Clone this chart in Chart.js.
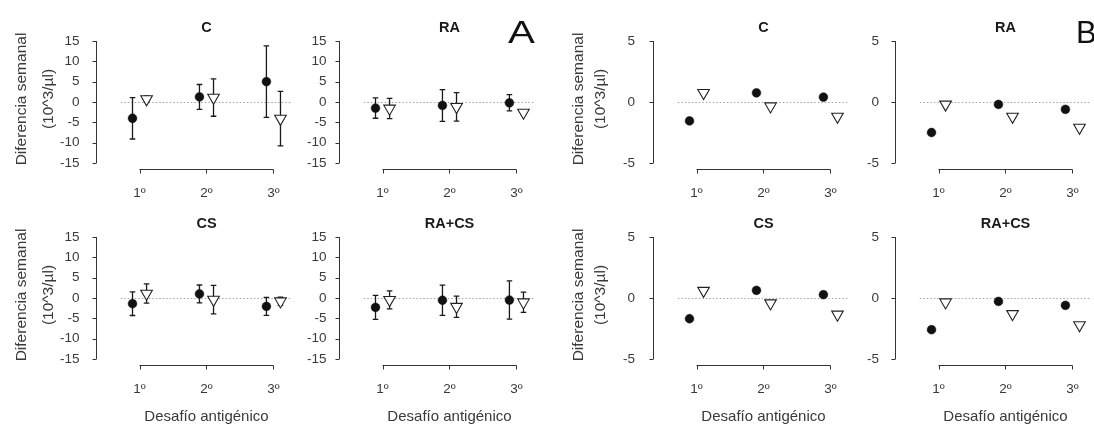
<!DOCTYPE html>
<html>
<head>
<meta charset="utf-8">
<script src="https://cdn.jsdelivr.net/npm/chart.js@4.4.1/dist/chart.umd.min.js"></script>
<style>
  html, body { margin: 0; padding: 0; background: #fff; width: 1094px; height: 430px; overflow: hidden; position: relative; }
  canvas { position: absolute; z-index: 1; }
  .tag { position: absolute; z-index: 2; font: 31px "Liberation Sans", Arial, sans-serif; color: #111; line-height: 31px;
         transform-origin: 0 0; }
</style>
</head>
<body>
<div class="tag" style="left:508px;top:17px;transform:scaleX(1.3)">A</div>
<div class="tag" style="left:1076px;top:17px">B</div>
<script>
// Categories and panel names
const challenges = ['1º', '2º', '3º'];
const groups = ['C', 'RA', 'CS', 'RA+CS'];
const ticksA = [-15, -10, -5, 0, 5, 10, 15];
const ticksB = [-5, 0, 5];

// A: weekly difference, mean and error (filled circles / open triangles)
const dotA_C = [-4.0, 1.25, 5.0];      const dotErrA_C = [5.1, 3.05, 8.8];
const triA_C = [0.7, 1.1, -4.1];       const triErrA_C = [0.8, 4.6, 6.7];
const dotA_RA = [-1.5, -0.85, -0.2];   const dotErrA_RA = [2.5, 3.9, 2.0];
const triA_RA = [-1.6, -1.2, -2.6];    const triErrA_RA = [2.5, 3.5, 0.5];
const dotA_CS = [-1.4, 1.0, -2.05];    const dotErrA_CS = [2.9, 2.2, 2.2];
const triA_CS = [1.1, -0.4, -0.8];     const triErrA_CS = [2.35, 3.5, 1.0];
const dotA_RACS = [-2.3, -0.55, -0.5]; const dotErrA_RACS = [2.95, 3.7, 4.7];
const triA_RACS = [-0.45, -2.15, -1.05]; const triErrA_RACS = [2.2, 2.6, 2.5];

// B: weekly difference, means only
const dotB_C = [-1.55, 0.75, 0.4];     const triB_C = [0.75, -0.35, -1.2];
const dotB_RA = [-2.5, -0.2, -0.6];    const triB_RA = [-0.2, -1.2, -2.1];
const dotB_CS = [-1.7, 0.63, 0.27];    const triB_CS = [0.6, -0.43, -1.35];
const dotB_RACS = [-2.6, -0.28, -0.6]; const triB_RACS = [-0.35, -1.31, -2.22];

// page layout: pixel of "1º" per column, pixel of zero per row
const colX = [140, 383, 697, 939];
const rowY = [102, 298];
const step = 68.6;
const tickRight = [-60, -56, -61.5, -59.5];
const yTitleX = [[-74.5, -47.5], null, [-74.5, -53], null];
const dodge = 0.105;
const FONT = '"Liberation Sans", Arial, sans-serif';

const panels = [
  { col: 0, row: 0, title: groups[0], ticks: ticksA, dot: dotA_C, dotErr: dotErrA_C, tri: triA_C, triErr: triErrA_C },
  { col: 1, row: 0, title: groups[1], ticks: ticksA, dot: dotA_RA, dotErr: dotErrA_RA, tri: triA_RA, triErr: triErrA_RA },
  { col: 0, row: 1, title: groups[2], ticks: ticksA, dot: dotA_CS, dotErr: dotErrA_CS, tri: triA_CS, triErr: triErrA_CS },
  { col: 1, row: 1, title: groups[3], ticks: ticksA, dot: dotA_RACS, dotErr: dotErrA_RACS, tri: triA_RACS, triErr: triErrA_RACS },
  { col: 2, row: 0, title: groups[0], ticks: ticksB, dot: dotB_C, tri: triB_C },
  { col: 3, row: 0, title: groups[1], ticks: ticksB, dot: dotB_RA, tri: triB_RA },
  { col: 2, row: 1, title: groups[2], ticks: ticksB, dot: dotB_CS, tri: triB_CS },
  { col: 3, row: 1, title: groups[3], ticks: ticksB, dot: dotB_RACS, tri: triB_RACS }
];

const panelDecor = {
  id: 'panelDecor',
  beforeDatasetsDraw(chart) {
    const { ctx, chartArea: a, scales: { x, y } } = chart;
    ctx.save();
    // dotted zero line
    const y0 = Math.round(y.getPixelForValue(0)) + 0.5;
    ctx.strokeStyle = '#a4a4a4';
    ctx.lineWidth = 1;
    ctx.setLineDash([1.5, 2]);
    ctx.beginPath(); ctx.moveTo(a.left, y0); ctx.lineTo(a.right, y0); ctx.stroke();
    ctx.setLineDash([]);
    // error bars
    ctx.strokeStyle = '#1a1a1a';
    ctx.lineWidth = 1.3;
    chart.data.datasets.forEach(ds => {
      if (!ds.errors) return;
      ds.data.forEach((pt, i) => {
        const px = x.getPixelForValue(pt.x);
        const hi = y.getPixelForValue(pt.y + ds.errors[i]);
        const lo = y.getPixelForValue(pt.y - ds.errors[i]);
        ctx.beginPath();
        ctx.moveTo(px, hi); ctx.lineTo(px, lo);
        ctx.moveTo(px - 2.8, hi); ctx.lineTo(px + 2.8, hi);
        ctx.moveTo(px - 2.8, lo); ctx.lineTo(px + 2.8, lo);
        ctx.stroke();
      });
    });
    ctx.restore();
  },
  afterDraw(chart, args, o) {
    const { ctx, chartArea: a, scales: { x, y } } = chart;
    const ticks = o.ticks;
    const x1 = x.getPixelForValue(1), x3 = x.getPixelForValue(3);
    const axX = Math.round(x1 - 43.5) + 0.5;
    const zero = y.getPixelForValue(0);
    ctx.save();
    ctx.strokeStyle = '#333';
    ctx.lineWidth = 1;
    // y axis
    ctx.beginPath();
    ctx.moveTo(axX, y.getPixelForValue(ticks[0]));
    ctx.lineTo(axX, y.getPixelForValue(ticks[ticks.length - 1]));
    ticks.forEach(t => {
      const ty = Math.round(y.getPixelForValue(t)) + 0.5;
      ctx.moveTo(axX, ty); ctx.lineTo(axX - 4, ty);
    });
    // x axis
    const axY = Math.round(a.bottom + 1) + 0.5;
    ctx.moveTo(x1, axY); ctx.lineTo(x3, axY);
    [1, 2, 3].forEach(v => {
      const tx = Math.round(x.getPixelForValue(v)) + 0.5;
      ctx.moveTo(tx, axY); ctx.lineTo(tx, axY + 4);
    });
    ctx.stroke();

    ctx.fillStyle = '#3a3a3a';
    ctx.font = '13.5px ' + FONT;
    ctx.textAlign = 'right';
    ctx.textBaseline = 'middle';
    ticks.forEach(t => ctx.fillText(String(t), x1 + o.tickRight, y.getPixelForValue(t)));
    ctx.textAlign = 'center';
    challenges.forEach((c, i) => ctx.fillText(c, x.getPixelForValue(i + 1), zero + 91.3));

    // panel title
    ctx.fillStyle = '#1a1a1a';
    ctx.font = 'bold 14.5px ' + FONT;
    ctx.fillText(o.title, x.getPixelForValue(2), zero - 73.6);

    ctx.fillStyle = '#3a3a3a';
    if (o.xTitle) {
      ctx.font = '15px ' + FONT;
      ctx.fillText('Desafío antigénico', x.getPixelForValue(2), zero + 119);
    }
    if (o.yTitle) {
      ctx.font = '15.5px ' + FONT;
      const cy = zero - 3;
      ['Diferencia semanal', '(10^3/µl)'].forEach((s, i) => {
        ctx.save();
        ctx.translate(axX + o.yTitle[i], cy);
        ctx.rotate(-Math.PI / 2);
        ctx.fillText(s, 0, 0);
        ctx.restore();
      });
    }
    ctx.restore();
  }
};

panels.forEach(p => {
  const cv = document.createElement('canvas');
  cv.width = 300;
  cv.height = 233;
  cv.style.left = (colX[p.col] - 140) + 'px';
  cv.style.top = (rowY[p.row] - 102) + 'px';
  document.body.appendChild(cv);

  const lim = p.ticks[p.ticks.length - 1] * 1.08;
  const padX = 140 - 0.28 * step;
  const pxPerUnit = 61 / p.ticks[p.ticks.length - 1];

  new Chart(cv, {
    type: 'scatter',
    data: {
      datasets: [
        {
          data: p.tri.map((v, i) => ({ x: i + 1 + dodge, y: v })),
          errors: p.triErr,
          pointStyle: 'triangle',
          pointRotation: 180,
          pointRadius: 6.7,
          pointBackgroundColor: '#fff',
          pointBorderColor: '#222',
          pointBorderWidth: 1.1
        },
        {
          data: p.dot.map((v, i) => ({ x: i + 1 - dodge, y: v })),
          errors: p.dotErr,
          pointStyle: 'circle',
          pointRadius: 4.4,
          pointBackgroundColor: '#111',
          pointBorderColor: '#111',
          pointBorderWidth: 0.5
        }
      ]
    },
    options: {
      responsive: false,
      animation: false,
      events: [],
      layout: {
        padding: {
          left: padX,
          right: 300 - (padX + 2.56 * step),
          top: 102 - lim * pxPerUnit,
          bottom: 233 - (102 + lim * pxPerUnit)
        }
      },
      scales: {
        x: { type: 'linear', min: 0.72, max: 3.28, display: false },
        y: { type: 'linear', min: -lim, max: lim, display: false }
      },
      plugins: {
        legend: { display: false },
        tooltip: { enabled: false },
        panelDecor: {
          ticks: p.ticks,
          title: p.title,
          tickRight: tickRight[p.col],
          xTitle: p.row === 1,
          yTitle: yTitleX[p.col]
        }
      }
    },
    plugins: [panelDecor]
  });
});
</script>
</body>
</html>
